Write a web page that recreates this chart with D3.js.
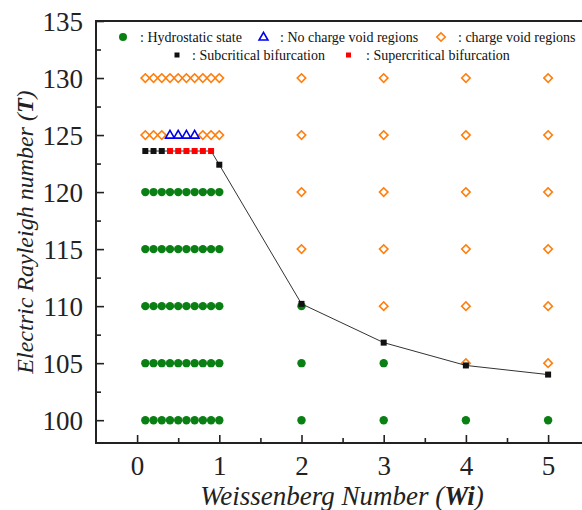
<!DOCTYPE html>
<html>
<head>
<meta charset="utf-8">
<script src="https://cdn.jsdelivr.net/npm/d3@7"></script>
<style>
  body { margin: 0; background: #fff; }
  svg { display: block; }
</style>
</head>
<body>
<svg id="plot" width="582" height="510"></svg>
<script>
// ---- data ----
const wiSmall = [0.1, 0.2, 0.3, 0.4, 0.5, 0.6, 0.7, 0.8, 0.9, 1.0];

// hydrostatic state (green)
const hydroWi = [].concat(
    ...[100, 105, 110, 115, 120].map(t => wiSmall.map(w => [w, t])),
    [[2, 100], [2, 105], [2, 110], [3, 100], [3, 105], [4, 100], [5, 100]]
);
// no charge void regions (blue triangles)
const noVoid = [[0.4, 125], [0.5, 125], [0.6, 125], [0.7, 125]];
// charge void regions (orange diamonds)
const chargeVoid = [].concat(
    wiSmall.map(w => [w, 130]),
    [[0.1, 125], [0.2, 125], [0.3, 125], [0.8, 125], [0.9, 125], [1.0, 125]],
    [[2, 115], [2, 120], [2, 125], [2, 130]],
    [[3, 110], [3, 115], [3, 120], [3, 125], [3, 130]],
    [[4, 105], [4, 110], [4, 115], [4, 120], [4, 125], [4, 130]],
    [[5, 105], [5, 110], [5, 115], [5, 120], [5, 125], [5, 130]]
);
// critical curve
const subcritical = [[0.1, 123.6], [0.2, 123.6], [0.3, 123.6], [1.0, 122.4], [2, 110.2], [3, 106.8], [4, 104.8], [5, 104.0]];
const supercritical = [[0.4, 123.6], [0.5, 123.6], [0.6, 123.6], [0.7, 123.6], [0.8, 123.6], [0.9, 123.6]];
const curve = subcritical.concat(supercritical).sort((a, b) => a[0] - b[0]);

const xTicks = [0, 1, 2, 3, 4, 5];
const yTicks = [100, 105, 110, 115, 120, 125, 130, 135];

// ---- layout ----
const FONT = "Liberation Serif";
const svg = d3.select("#plot");
const plotLeft = 96, plotTop = 21, plotBottom = 443;
const x = d3.scaleLinear().domain([-0.5, 5.5]).range([plotLeft, plotLeft + 6 * 82.2]);
const y = d3.scaleLinear().domain([98, 135]).range([plotBottom, plotTop]);

// frame
svg.append("path")
    .attr("d", `M${x(5.5)},${plotTop}H${plotLeft}V${plotBottom}H${x(5.5)}`)
    .attr("fill", "none")
    .attr("stroke", "#222")
    .attr("stroke-width", 2);

// axes, ticks pointing inward
const xAxis = svg.append("g").attr("transform", `translate(0,${plotBottom})`)
    .call(d3.axisBottom(x).tickValues(xTicks).tickFormat(d3.format("d"))
        .tickSizeInner(-8).tickSizeOuter(0).tickPadding(13));
svg.append("g").attr("transform", `translate(0,${plotBottom})`)
    .call(d3.axisBottom(x).tickValues(d3.range(0.5, 5.5, 1)).tickSizeInner(-5).tickSizeOuter(0).tickFormat(""));
const yAxis = svg.append("g").attr("transform", `translate(${plotLeft},0)`)
    .call(d3.axisLeft(y).tickValues(yTicks).tickFormat(d3.format("d"))
        .tickSizeInner(-8).tickSizeOuter(0).tickPadding(13));
svg.append("g").attr("transform", `translate(${plotLeft},0)`)
    .call(d3.axisLeft(y).tickValues(d3.range(102.5, 135, 5)).tickSizeInner(-5).tickSizeOuter(0).tickFormat(""));

svg.selectAll(".domain").remove();
svg.selectAll(".tick line").attr("stroke", "#222").attr("stroke-width", 1.6);
svg.selectAll(".tick text")
    .style("font-family", FONT)
    .style("font-size", "27px")
    .attr("fill", "#222");
xAxis.selectAll(".tick text").attr("dy", "0.71em");
yAxis.selectAll(".tick text").attr("dy", "0.34em");

// axis titles
const yTitle = svg.append("text")
    .attr("transform", `translate(33,232) rotate(-90)`)
    .attr("text-anchor", "middle")
    .style("font-family", FONT)
    .style("font-size", "24px")
    .style("font-style", "italic")
    .attr("fill", "#222");
yTitle.append("tspan").text("Electric Rayleigh number (");
yTitle.append("tspan").style("font-weight", "bold").text("T");
yTitle.append("tspan").text(")");

const xTitle = svg.append("text")
    .attr("x", 342).attr("y", 505)
    .attr("text-anchor", "middle")
    .style("font-family", FONT)
    .style("font-size", "27px")
    .style("font-style", "italic")
    .attr("fill", "#222");
xTitle.append("tspan").text("Weissenberg Number (");
xTitle.append("tspan").style("font-weight", "bold").text("Wi");
xTitle.append("tspan").text(")");

// ---- marks ----
const diamond = d3.symbol().type(d3.symbolSquare).size(36);
const triangle = d3.symbol().type(d3.symbolTriangle).size(34);

svg.append("g").selectAll("circle").data(hydroWi).join("circle")
    .attr("cx", d => x(d[0])).attr("cy", d => y(d[1])).attr("r", 4.2)
    .attr("fill", "#0a8014");

svg.append("g").selectAll("path").data(chargeVoid).join("path")
    .attr("d", diamond)
    .attr("transform", d => `translate(${x(d[0])},${y(d[1])}) rotate(45)`)
    .attr("fill", "none").attr("stroke", "#ff7f0e").attr("stroke-width", 1.6);

svg.append("g").selectAll("path").data(noVoid).join("path")
    .attr("d", triangle)
    .attr("transform", d => `translate(${x(d[0])},${y(d[1]) + 0.5})`)
    .attr("fill", "none").attr("stroke", "#0000ee").attr("stroke-width", 1.6);

svg.append("path")
    .datum(curve)
    .attr("d", d3.line().x(d => x(d[0])).y(d => y(d[1])))
    .attr("fill", "none").attr("stroke", "#333").attr("stroke-width", 1);

svg.append("g").selectAll("rect").data(subcritical).join("rect")
    .attr("x", d => x(d[0]) - 3).attr("y", d => y(d[1]) - 3)
    .attr("width", 6).attr("height", 6).attr("fill", "#111");
svg.append("g").selectAll("rect").data(supercritical).join("rect")
    .attr("x", d => x(d[0]) - 3).attr("y", d => y(d[1]) - 3)
    .attr("width", 6).attr("height", 6).attr("fill", "#f00");

// ---- legend ----
const lg = svg.append("g").style("font-family", FONT).style("font-size", "14px").attr("fill", "#111");
lg.append("circle").attr("cx", 123).attr("cy", 37).attr("r", 4).attr("fill", "#0a8014");
lg.append("text").attr("x", 140).attr("y", 41.5).text(": Hydrostatic state");
lg.append("path").attr("d", triangle).attr("transform", "translate(263.5,37.5)")
    .attr("fill", "none").attr("stroke", "#0000ee").attr("stroke-width", 1.6);
lg.append("text").attr("x", 280).attr("y", 41.5).text(": No charge void regions");
lg.append("path").attr("d", diamond).attr("transform", "translate(441,37) rotate(45)")
    .attr("fill", "none").attr("stroke", "#ff7f0e").attr("stroke-width", 1.6);
lg.append("text").attr("x", 458).attr("y", 41.5).text(": charge void regions");
lg.append("rect").attr("x", 174.5).attr("y", 52.5).attr("width", 5).attr("height", 5).attr("fill", "#111");
lg.append("text").attr("x", 192).attr("y", 59.5).text(": Subcritical bifurcation");
lg.append("rect").attr("x", 346).attr("y", 52.5).attr("width", 5).attr("height", 5).attr("fill", "#f00");
lg.append("text").attr("x", 366).attr("y", 59.5).text(": Supercritical bifurcation");
</script>
</body>
</html>
